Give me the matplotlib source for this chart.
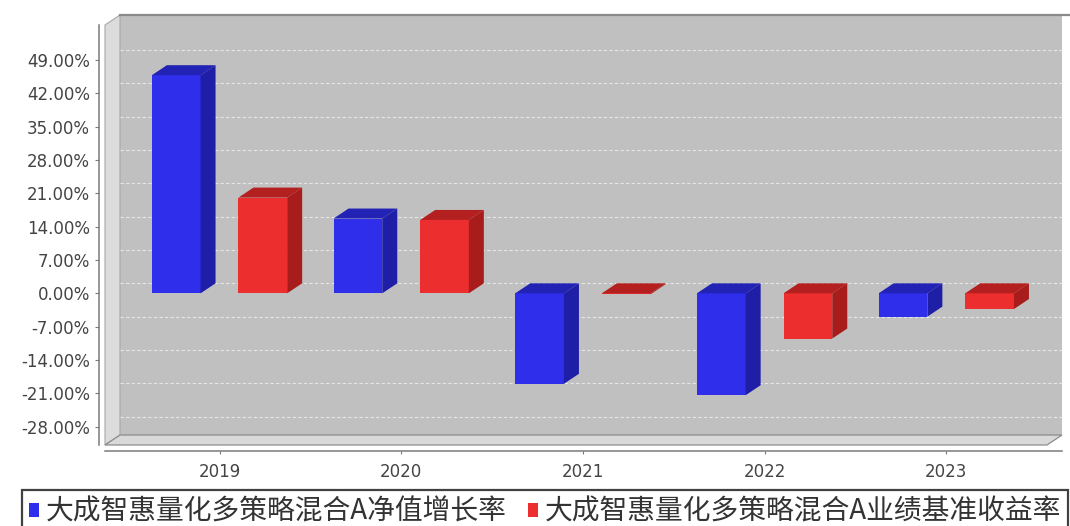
import matplotlib
matplotlib.use("Agg")
import matplotlib.pyplot as plt
from matplotlib.patches import Polygon, Rectangle

# ---- data ----
years = ["2019", "2020", "2021", "2022", "2023"]
nav_growth = [45.8, 15.7, -19.0, -21.4, -4.9]
benchmark = [20.1, 15.4, -0.2, -9.5, -3.3]
series_names = ["大成智惠量化多策略混合A净值增长率", "大成智惠量化多策略混合A业绩基准收益率"]
yticks = [-28, -21, -14, -7, 0, 7, 14, 21, 28, 35, 42, 49]

plt.rcParams["axes.unicode_minus"] = False
W, H = 1070, 526
fig = plt.figure(figsize=(W / 100, H / 100), dpi=100, facecolor="white")

# axes covers the front plane vertically and full data area horizontally
L, R, T, B = 105, 1062, 25, 445
ax = fig.add_axes([L / W, 1 - B / H, (R - L) / W, (B - T) / H])
ax.patch.set_visible(False)

cat0, cat_step = 219.5, 181.7   # pixel layout of categories
zero_px, px_per_pct = 293.3, 4.762
xlim = ((L - cat0) / cat_step, (R - cat0) / cat_step)
ylim = ((zero_px - B) / px_per_pct, (zero_px - T) / px_per_pct)
ax.set_xlim(*xlim)
ax.set_ylim(*ylim)

DX = 15 / cat_step
DY = 10 / px_per_pct

# back wall
ax.add_patch(Rectangle((xlim[0] + DX, ylim[0] + DY), xlim[1] - xlim[0] - DX, ylim[1] - ylim[0],
                       facecolor="#c0c0c0", edgecolor="none", clip_on=False, zorder=0))
ax.plot([xlim[0] + DX, xlim[1] + 0.05], [ylim[1] + DY] * 2, color="#8a8a8a", lw=1.6,
        clip_on=False, zorder=1)
# left wall
ax.add_patch(Polygon([(xlim[0], ylim[0]), (xlim[0], ylim[1]), (xlim[0] + DX, ylim[1] + DY),
                      (xlim[0] + DX, ylim[0] + DY)], closed=True, facecolor="#dcdcdc",
                     edgecolor="#a8a8a8", lw=0.8, clip_on=False, zorder=0.5))
# floor
ax.add_patch(Polygon([(xlim[0], ylim[0]), (xlim[1] - DX, ylim[0]), (xlim[1], ylim[0] + DY),
                      (xlim[0] + DX, ylim[0] + DY)], closed=True, facecolor="#d9d9d9",
                     edgecolor="#8c8c8c", lw=0.9, clip_on=False, zorder=0.5))

# gridlines on the back wall
for t in yticks:
    ax.plot([xlim[0] + DX, xlim[1]], [t + DY] * 2, color="#e6e6e6", lw=0.8,
            ls=(0, (3, 2)), clip_on=False, zorder=0.8)

# bars
bw = 48.7 / cat_step
off = 43.3 / cat_step
x = list(range(len(years)))
specs = [(nav_growth, -off, "#2e2eeb", "#1e1ea6", "#2222b4"),
         (benchmark, off, "#ec2e2e", "#a81c1c", "#b41f1f")]
containers = []
for vals, o, cf, cs, ct in specs:
    xs = [xi + o for xi in x]
    bc = ax.bar(xs, vals, width=bw, color=cf, linewidth=0, zorder=3)
    containers.append(bc)
    for xc, v in zip(xs, vals):
        x0, x1 = xc - bw / 2, xc + bw / 2
        top, bot = max(v, 0), min(v, 0)
        ax.add_patch(Polygon([(x0, top), (x1, top), (x1 + DX, top + DY), (x0 + DX, top + DY)],
                             closed=True, facecolor=ct, edgecolor="none", zorder=3))
        ax.add_patch(Polygon([(x1, bot), (x1, top), (x1 + DX, top + DY), (x1 + DX, bot + DY)],
                             closed=True, facecolor=cs, edgecolor="none", zorder=3))

# axes styling
for s in ("top", "right"):
    ax.spines[s].set_visible(False)
for s in ("left", "bottom"):
    ax.spines[s].set_position(("outward", 6 * 72 / 100))
    ax.spines[s].set_color("#7a7a7a")
    ax.spines[s].set_linewidth(1.1)

ax.set_yticks(yticks)
ax.set_yticklabels([f"{t:.2f}%" for t in yticks])
ax.set_xticks(x)
ax.set_xticklabels(years)
ax.tick_params(axis="y", length=3, pad=3.5, labelsize=12, labelcolor="#444444", color="#7a7a7a")
ax.tick_params(axis="x", length=2.5, pad=6, labelsize=12, labelcolor="#444444", color="#7a7a7a")

# legend
leg = fig.legend([c for c in containers], series_names, loc="upper left",
                 bbox_to_anchor=(22 / W, 0, 1046 / W, 1 - 490 / H), mode="expand",
                 ncol=2, frameon=True, fancybox=False, borderpad=0.25, borderaxespad=0,
                 handlelength=0.35, handleheight=0.35, handletextpad=0.25, columnspacing=0.3,
                 prop={"family": ["Noto Sans CJK SC", "DejaVu Sans"], "size": 20})
leg.get_frame().set_edgecolor("#111111")
leg.get_frame().set_linewidth(1.6)
for txt in leg.get_texts():
    txt.set_color("#333333")

fig.savefig("out.png", dpi=100, facecolor="white")
